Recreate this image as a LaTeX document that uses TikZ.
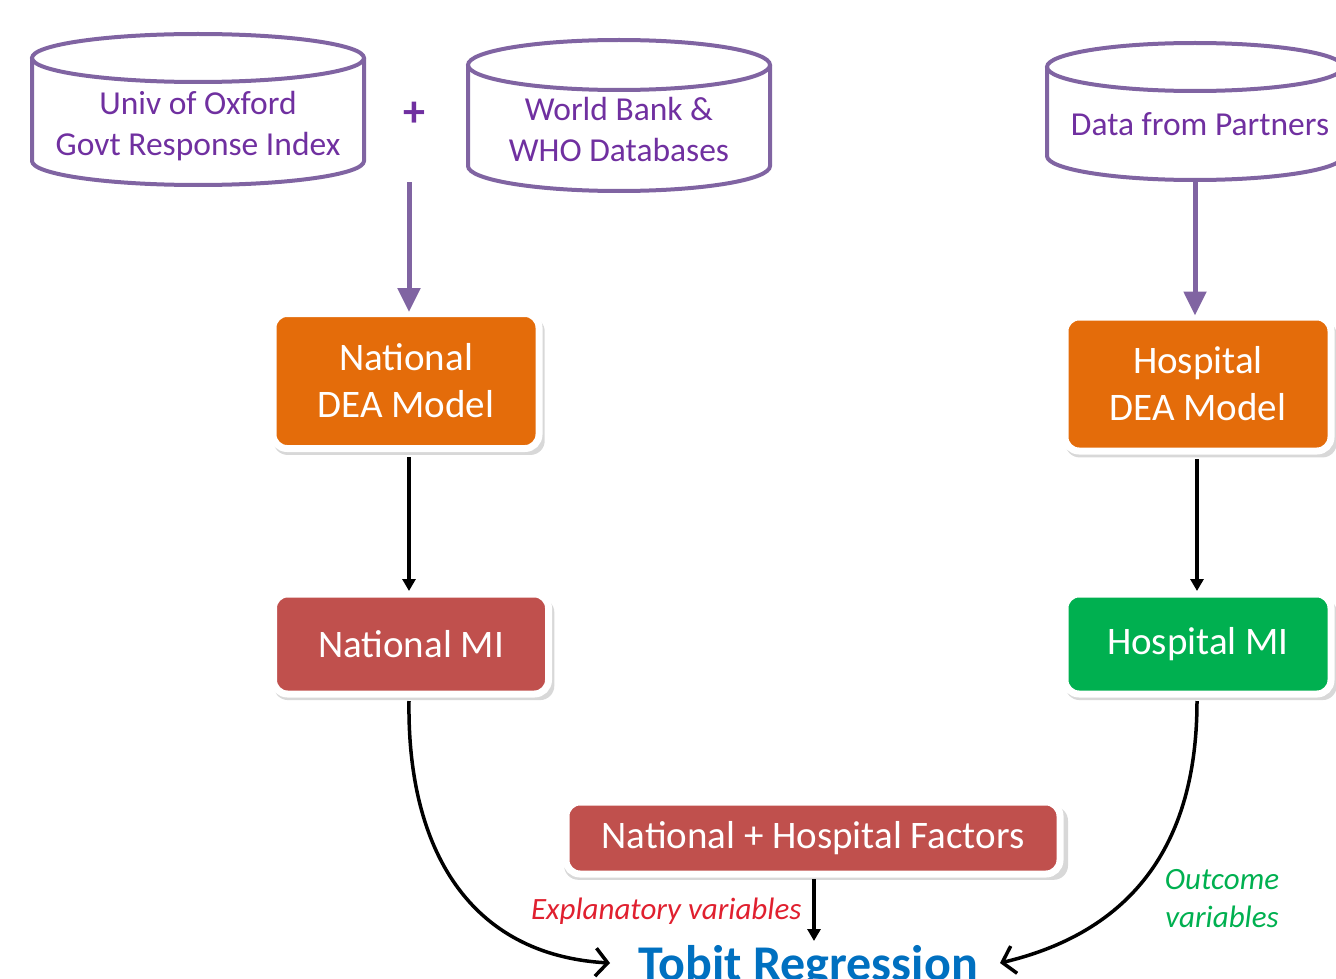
\documentclass[tikz,border=0pt]{standalone}
\usepackage{fontspec}
\setmainfont{Carlito}
\usetikzlibrary{arrows.meta,shadows}
\definecolor{cylpurple}{HTML}{8064A2}
\definecolor{txtpurple}{HTML}{7030A0}
\definecolor{deaorange}{HTML}{E46C0A}
\definecolor{mired}{HTML}{C0504D}
\definecolor{migreen}{HTML}{00B050}
\definecolor{tobitblue}{HTML}{0070C0}
\definecolor{explred}{HTML}{E0202F}
\tikzset{
  cyl/.style={draw=cylpurple,line width=4pt},
  cyltext/.style={text=txtpurple,font=\fontsize{33.5}{41}\selectfont,align=center},
  box/.style={draw=white,line width=7pt,rounded corners=14pt,text=white,align=center,
    drop shadow={shadow xshift=3pt,shadow yshift=-5pt,shadow scale=1.02,opacity=0.22,fill=black!70}},
  purplearrow/.style={draw=cylpurple,line width=5pt,-{Triangle[length=24pt,width=22pt]}},
  blackarrow/.style={draw=black,line width=3.5pt,-{Triangle[length=12pt,width=13pt]}},
  curvearrow/.style={draw=black,line width=3.5pt,-{Straight Barb[length=12pt,width=28pt,line width=3.5pt]}},
}
\begin{document}
\begin{tikzpicture}[x=1pt,y=-1pt]
\useasboundingbox (0,0) rectangle (1336,979);
\clip (0,0) rectangle (1336,979);
% cylinders
\draw[cyl] (32,58) -- (32,161) arc[start angle=180,end angle=0,x radius=166,y radius=24] -- (364,58);
\draw[cyl] (198,58) ellipse[x radius=166,y radius=24];
\node[cyltext] (oxf) at (198,126) {Univ of Oxford\\Govt Response Index};
\draw[cyl] (468,65) -- (468,166) arc[start angle=180,end angle=0,x radius=151,y radius=25] -- (770,65);
\draw[cyl] (619,65) ellipse[x radius=151,y radius=25];
\node[cyltext] (wb) at (619,129) {World Bank \&\\WHO Databases};
\draw[cyl] (1047,67) -- (1047,156) arc[start angle=180,end angle=0,x radius=148,y radius=24] -- (1343,67);
\draw[cyl] (1195,67) ellipse[x radius=148,y radius=24];
\node[cyltext] (dp) at (1200,124) {Data from Partners};
\node[text=txtpurple,font=\fontsize{44}{48}\selectfont\bfseries] (plus) at (414,114) {+};
% boxes
\node[box,fill=deaorange,minimum width=266pt,minimum height=135pt,font=\fontsize{39}{47}\selectfont] (ndea) at (406,381) {National\\DEA Model};
\node[box,fill=deaorange,minimum width=266pt,minimum height=134pt,font=\fontsize{39}{47}\selectfont] (hdea) at (1198,384) {Hospital\\DEA Model};
\node[box,fill=mired,minimum width=275pt,minimum height=100pt,font=\fontsize{39}{46}\selectfont] (nmi) at (411,644) {National MI};
\node[box,fill=migreen,minimum width=266pt,minimum height=100pt,font=\fontsize{39}{46}\selectfont] (hmi) at (1198,644) {Hospital MI};
\node[box,fill=mired,minimum width=494pt,minimum height=72pt,font=\fontsize{39}{46}\selectfont] (fac) at (813,838) {National + Hospital Factors};
\node[text=tobitblue,font=\fontsize{50}{54}\selectfont\bfseries,anchor=base] (tobit) at (808,980) {Tobit Regression};
% labels
\node[text=explred,font=\fontsize{31}{36}\selectfont\itshape,anchor=east] (expl) at (805,911) {Explanatory variables};
\node[text=migreen,font=\fontsize{31}{38}\selectfont\itshape,align=center] (outc) at (1222,899) {Outcome\\variables};
% connectors
\coordinate (lsrc) at (409,182);
\coordinate (rsrc) at (1195,182);
\draw[purplearrow] (lsrc) -- ([yshift=-2pt]ndea.north -| lsrc);
\draw[purplearrow] (rsrc) -- ([yshift=-2pt]hdea.north -| rsrc);
\draw[blackarrow] (409,457) -- (409,591);
\draw[blackarrow] (1197,459) -- (1197,591);
\draw[blackarrow] (814,879) -- (814,941);
\coordinate (ltip) at (610,963);
\coordinate (rtip) at (1000,963);
\draw[curvearrow] (409,701) .. controls (407,850) and (470,955) .. (ltip);
\draw[curvearrow] (1197,701) .. controls (1197,810) and (1160,925) .. (rtip);
\end{tikzpicture}
\end{document}
